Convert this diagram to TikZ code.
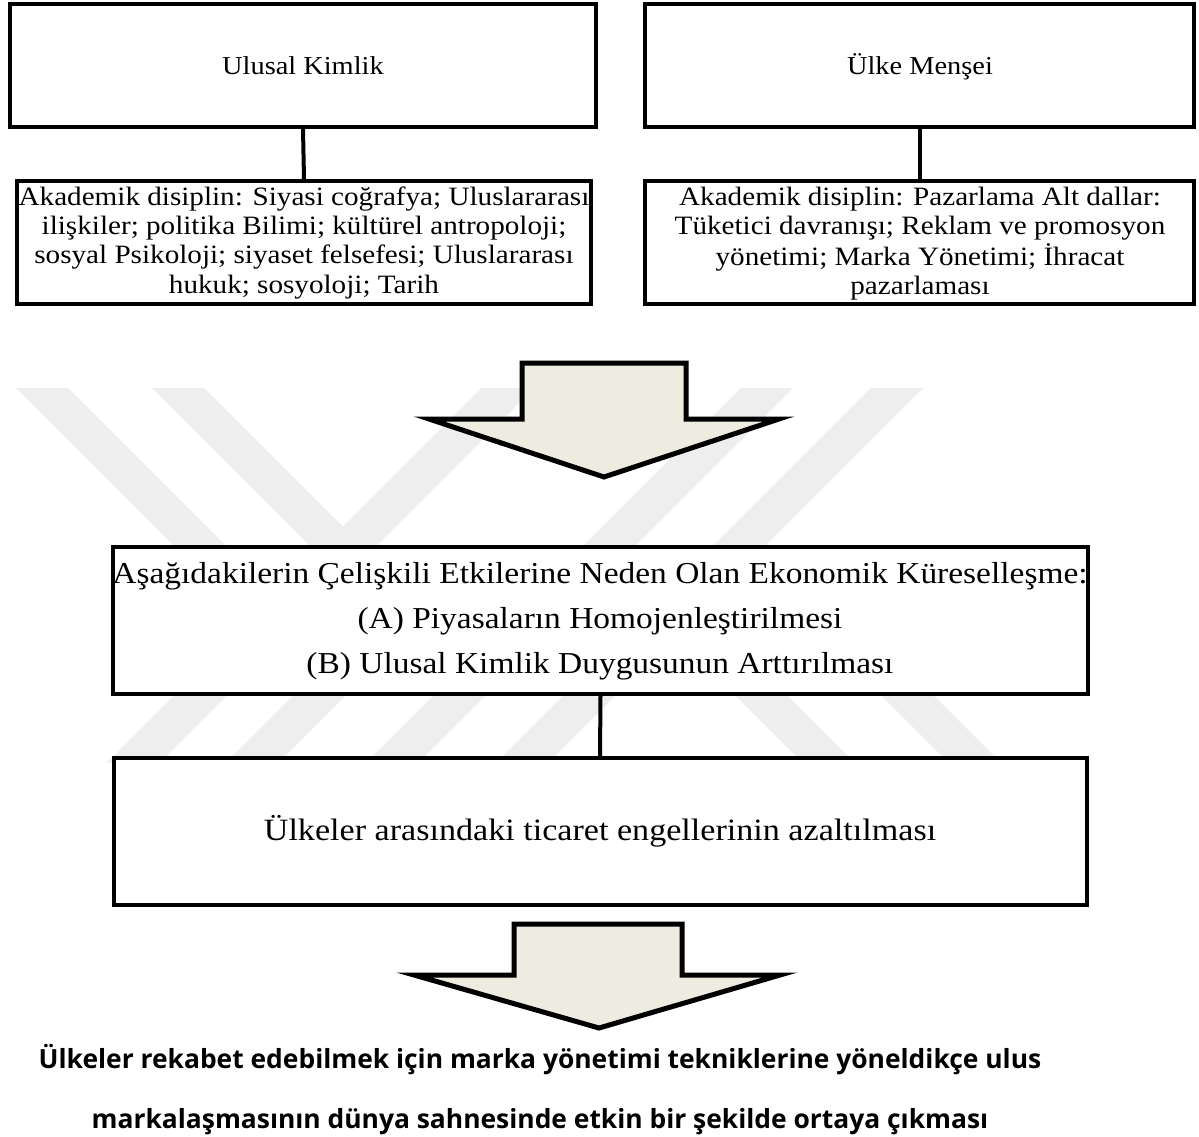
\documentclass[tikz,border=0pt]{standalone}
\usepackage{fontspec}
\setmainfont{Liberation Serif}[FakeStretch=1.1]
\newfontfamily\boldsans{Open Sans}[BoldFont={Open Sans Bold}]
\definecolor{arrowfill}{HTML}{EEECE1}
\definecolor{wmgray}{HTML}{EEEEEE}
\begin{document}
\begin{tikzpicture}[x=1pt,y=-1pt,
  box/.style={draw=black, line width=4pt, fill=white, inner sep=0pt},
  conn/.style={draw=black, line width=4pt},
  blockarrow/.style={draw=black, line width=5pt, fill=arrowfill, line join=miter},
  wmstripe/.style={draw=wmgray, line width=37pt},
  txt/.style={inner sep=0pt, anchor=base},
  smalltxt/.style={txt, font=\fontsize{26.5}{29.4}\selectfont},
  midtxt/.style={txt, font=\fontsize{25.8}{30}\selectfont},
  bigtxt/.style={txt, font=\fontsize{30.4}{45}\selectfont},
  boldtxt/.style={txt, font=\boldsans\bfseries\fontsize{26.4}{30}\selectfont}]
\useasboundingbox (0,0) rectangle (1199,1136);
\fill[white] (0,0) rectangle (1199,1136);
% watermark
\begin{scope}
  \clip (0,388) rectangle (1199,762);
  \draw[wmstripe] (4,350) -- (300,646);
  \draw[wmstripe] (140,350) -- (343,553);
  \draw[wmstripe] (546,350) -- (96,800);
  \draw[wmstripe] (805,350) -- (355,800);
  \draw[wmstripe] (935,350) -- (485,800);
  \draw[wmstripe] (440,575) -- (215,800);
  \draw[wmstripe] (640,574) -- (866,800);
  \draw[wmstripe] (780,568) -- (1012,800);
\end{scope}
% top boxes
\node[box, minimum width=586pt, minimum height=123pt] (b1) at (303,65.5) {};
\node[box, minimum width=574pt, minimum height=123pt] (b2) at (304,242.5) {};
\node[box, minimum width=549pt, minimum height=123pt] (b3) at (919.5,65.5) {};
\node[box, minimum width=549pt, minimum height=123pt] (b4) at (919.5,242.5) {};
\draw[conn] (b1.south) -- (b2.north);
\draw[conn] (b3.south) -- (b4.north);
\node[midtxt] (tx1) at (303,74) {Ulusal Kimlik};
\node[midtxt] (tx3) at (920,74) {Ülke Menşei};
\node[smalltxt] (tx2) at (304,205) {\begin{tabular}[t]{@{}c@{}}Akademik disiplin: Siyasi coğrafya; Uluslararası\\ilişkiler; politika Bilimi; kültürel antropoloji;\\sosyal Psikoloji; siyaset felsefesi; Uluslararası\\hukuk; sosyoloji; Tarih\end{tabular}};
\node[smalltxt] (tx4) at (920,205) {\begin{tabular}[t]{@{}c@{}}Akademik disiplin: Pazarlama Alt dallar:\\Tüketici davranışı; Reklam ve promosyon\\yönetimi; Marka Yönetimi; İhracat\\pazarlaması\end{tabular}};
% arrow 1
\draw[blockarrow] (522,363) -- (686,363) -- (686,419) -- (779,419) -- (604,477) -- (429,419) -- (522,419) -- cycle;
% middle boxes
\node[box, minimum width=975pt, minimum height=147pt] (b5) at (600.5,620.5) {};
\node[box, minimum width=973pt, minimum height=147pt] (b6) at (600,831.5) {};
\draw[conn] (b5.south) -- (b6.north);
\node[bigtxt] (tx5) at (600,583) {\begin{tabular}[t]{@{}c@{}}Aşağıdakilerin Çelişkili Etkilerine Neden Olan Ekonomik Küreselleşme:\\(A) Piyasaların Homojenleştirilmesi\\(B) Ulusal Kimlik Duygusunun Arttırılması\end{tabular}};
\node[txt, font=\fontsize{31}{36}\selectfont] (tx6) at (600,840) {Ülkeler arasındaki ticaret engellerinin azaltılması};
% arrow 2
\draw[blockarrow] (514,924) -- (682,924) -- (682,975) -- (780,975) -- (599,1028) -- (414,975) -- (514,975) -- cycle;
% bottom text
\node[boldtxt] (t1) at (540,1068) {Ülkeler rekabet edebilmek için marka yönetimi tekniklerine yöneldikçe ulus};
\node[boldtxt] (t2) at (540,1128) {markalaşmasının dünya sahnesinde etkin bir şekilde ortaya çıkması};
\end{tikzpicture}
\end{document}
